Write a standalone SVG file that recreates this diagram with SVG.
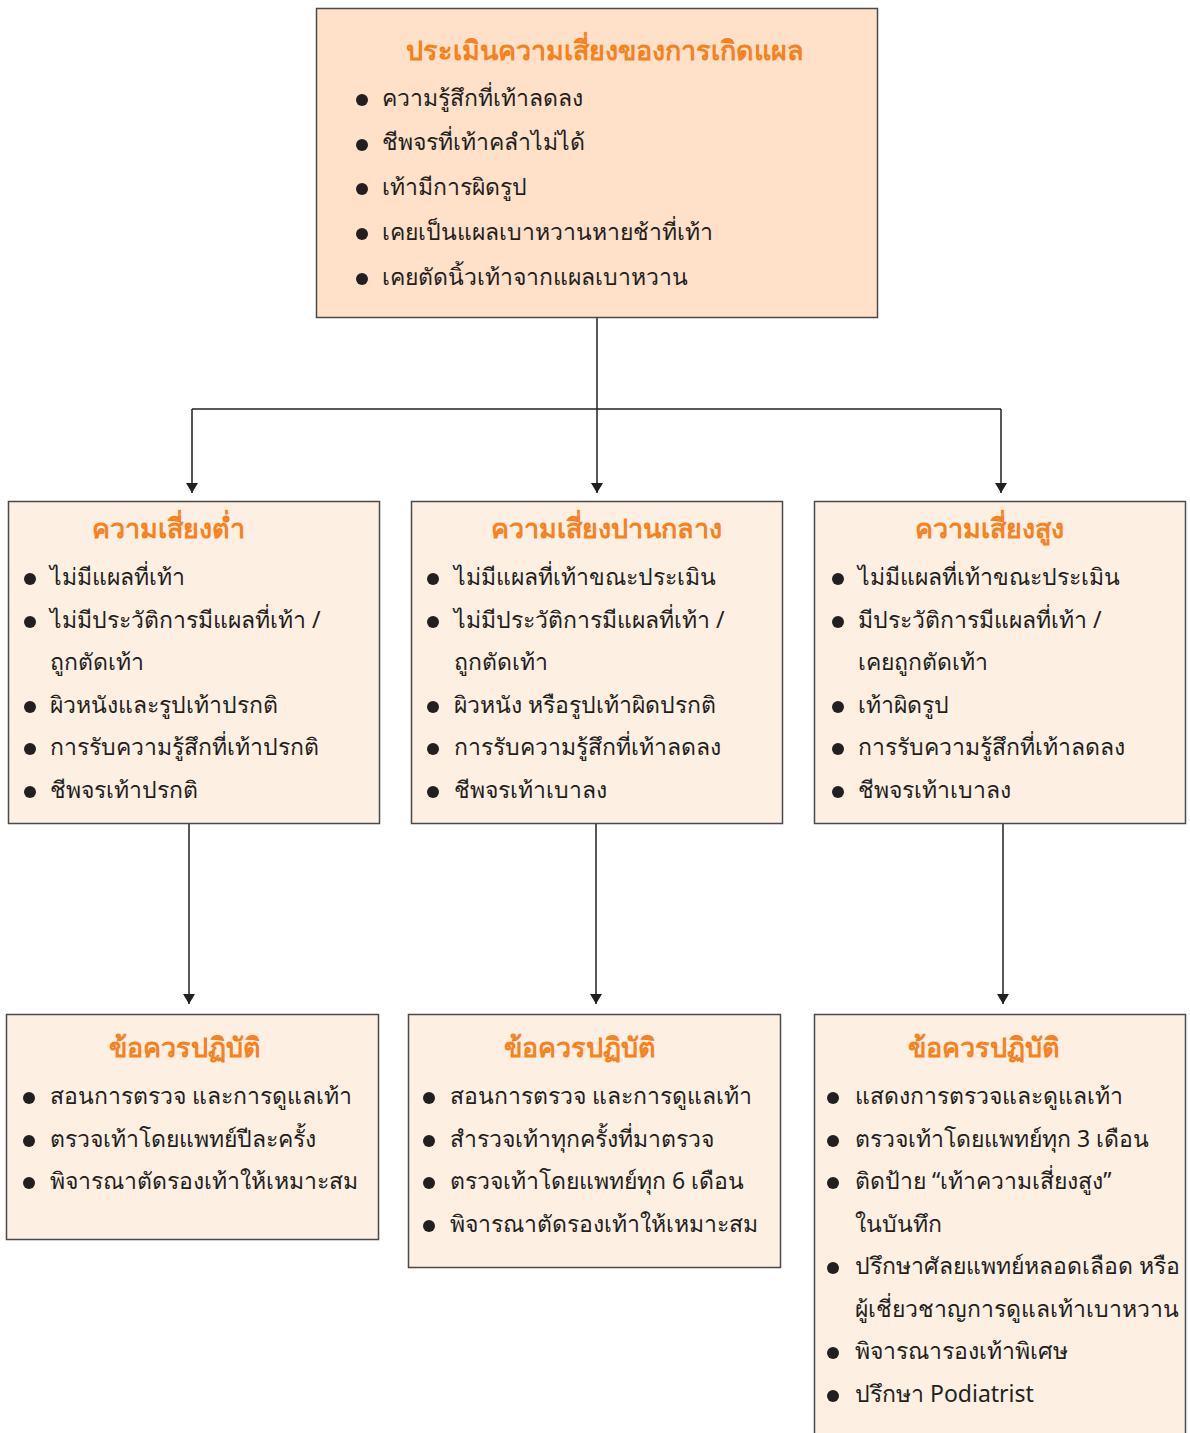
<svg xmlns="http://www.w3.org/2000/svg" width="1190" height="1433" viewBox="0 0 1190 1433">
<style>
.box{stroke:#4a4a4a;stroke-width:1.5}
.top{fill:#FFE0C8}
.lt{fill:#FEEFE3}
.ttl{font-family:"Noto Sans","DejaVu Sans",sans-serif;font-weight:bold;font-size:27px;fill:#F5821F;text-anchor:middle}
.tx{font-family:"Noto Sans","DejaVu Sans",sans-serif;font-size:23px;fill:#231F20}
.bul{fill:#231F20}
.con{stroke:#231F20;stroke-width:1.5;fill:none}
</style>
<defs>
<marker id="ah" markerWidth="10" markerHeight="12" refX="10" refY="6" orient="auto" markerUnits="userSpaceOnUse" viewBox="0 0 10 12">
<path d="M0,0 L10,6 L0,12 Z" fill="#231F20"/>
</marker>
</defs>
<g id="connectors">
<path class="con" d="M597,318 V409"/>
<path class="con" d="M192,409 H1001"/>
<path class="con" d="M192,409 V493" marker-end="url(#ah)"/>
<path class="con" d="M597,409 V493" marker-end="url(#ah)"/>
<path class="con" d="M1001,409 V493" marker-end="url(#ah)"/>
<path class="con" d="M189,824 V1004" marker-end="url(#ah)"/>
<path class="con" d="M596,824 V1004" marker-end="url(#ah)"/>
<path class="con" d="M1003,824 V1004" marker-end="url(#ah)"/>
</g>
<g id="assess">
<rect class="box top" x="316.5" y="8.5" width="561" height="309"/>
<text class="ttl" x="605" y="60">ประเมินความเสี่ยงของการเกิดแผล</text>
<circle class="bul" cx="362" cy="100" r="6"/><text class="tx" x="382" y="106">ความรู้สึกที่เท้าลดลง</text>
<circle class="bul" cx="362" cy="145" r="6"/><text class="tx" x="382" y="150">ชีพจรที่เท้าคลำไม่ได้</text>
<circle class="bul" cx="362" cy="189" r="6"/><text class="tx" x="382" y="195">เท้ามีการผิดรูป</text>
<circle class="bul" cx="362" cy="234" r="6"/><text class="tx" x="382" y="240">เคยเป็นแผลเบาหวานหายช้าที่เท้า</text>
<circle class="bul" cx="362" cy="279" r="6"/><text class="tx" x="382" y="285">เคยตัดนิ้วเท้าจากแผลเบาหวาน</text>
</g>
<g id="low">
<rect class="box lt" x="8.5" y="501.5" width="371" height="322"/>
<text class="ttl" x="168" y="538">ความเสี่ยงต่ำ</text>
<circle class="bul" cx="30" cy="579" r="6"/><text class="tx" x="50" y="585">ไม่มีแผลที่เท้า</text>
<circle class="bul" cx="30" cy="622" r="6"/><text class="tx" x="50" y="628">ไม่มีประวัติการมีแผลที่เท้า /</text>
<text class="tx" x="50" y="670">ถูกตัดเท้า</text>
<circle class="bul" cx="30" cy="707" r="6"/><text class="tx" x="50" y="713">ผิวหนังและรูปเท้าปรกติ</text>
<circle class="bul" cx="30" cy="749" r="6"/><text class="tx" x="50" y="755">การรับความรู้สึกที่เท้าปรกติ</text>
<circle class="bul" cx="30" cy="792" r="6"/><text class="tx" x="50" y="798">ชีพจรเท้าปรกติ</text>
</g>
<g id="medium">
<rect class="box lt" x="411.5" y="501.5" width="371" height="322"/>
<text class="ttl" x="606" y="538">ความเสี่ยงปานกลาง</text>
<circle class="bul" cx="433" cy="579" r="6"/><text class="tx" x="454" y="585">ไม่มีแผลที่เท้าขณะประเมิน</text>
<circle class="bul" cx="433" cy="622" r="6"/><text class="tx" x="454" y="628">ไม่มีประวัติการมีแผลที่เท้า /</text>
<text class="tx" x="454" y="670">ถูกตัดเท้า</text>
<circle class="bul" cx="433" cy="707" r="6"/><text class="tx" x="454" y="713">ผิวหนัง หรือรูปเท้าผิดปรกติ</text>
<circle class="bul" cx="433" cy="749" r="6"/><text class="tx" x="454" y="755">การรับความรู้สึกที่เท้าลดลง</text>
<circle class="bul" cx="433" cy="792" r="6"/><text class="tx" x="454" y="798">ชีพจรเท้าเบาลง</text>
</g>
<g id="high">
<rect class="box lt" x="814.5" y="501.5" width="371" height="322"/>
<text class="ttl" x="989" y="538">ความเสี่ยงสูง</text>
<circle class="bul" cx="838" cy="579" r="6"/><text class="tx" x="858" y="585">ไม่มีแผลที่เท้าขณะประเมิน</text>
<circle class="bul" cx="838" cy="622" r="6"/><text class="tx" x="858" y="628">มีประวัติการมีแผลที่เท้า /</text>
<text class="tx" x="858" y="670">เคยถูกตัดเท้า</text>
<circle class="bul" cx="838" cy="707" r="6"/><text class="tx" x="858" y="713">เท้าผิดรูป</text>
<circle class="bul" cx="838" cy="749" r="6"/><text class="tx" x="858" y="755">การรับความรู้สึกที่เท้าลดลง</text>
<circle class="bul" cx="838" cy="792" r="6"/><text class="tx" x="858" y="798">ชีพจรเท้าเบาลง</text>
</g>
<g id="low-action">
<rect class="box lt" x="6.5" y="1014.5" width="372" height="225"/>
<text class="ttl" x="185" y="1057">ข้อควรปฏิบัติ</text>
<circle class="bul" cx="29" cy="1098" r="6"/><text class="tx" x="50" y="1104">สอนการตรวจ และการดูแลเท้า</text>
<circle class="bul" cx="29" cy="1141" r="6"/><text class="tx" x="50" y="1147">ตรวจเท้าโดยแพทย์ปีละครั้ง</text>
<circle class="bul" cx="29" cy="1183" r="6"/><text class="tx" x="50" y="1189">พิจารณาตัดรองเท้าให้เหมาะสม</text>
</g>
<g id="medium-action">
<rect class="box lt" x="408.5" y="1014.5" width="372" height="253"/>
<text class="ttl" x="580" y="1057">ข้อควรปฏิบัติ</text>
<circle class="bul" cx="429" cy="1098" r="6"/><text class="tx" x="450" y="1104">สอนการตรวจ และการดูแลเท้า</text>
<circle class="bul" cx="429" cy="1141" r="6"/><text class="tx" x="450" y="1147">สำรวจเท้าทุกครั้งที่มาตรวจ</text>
<circle class="bul" cx="429" cy="1183" r="6"/><text class="tx" x="450" y="1189">ตรวจเท้าโดยแพทย์ทุก 6 เดือน</text>
<circle class="bul" cx="429" cy="1226" r="6"/><text class="tx" x="450" y="1232">พิจารณาตัดรองเท้าให้เหมาะสม</text>
</g>
<g id="high-action">
<rect class="box lt" x="814.5" y="1014.5" width="371" height="430"/>
<text class="ttl" x="984" y="1057">ข้อควรปฏิบัติ</text>
<circle class="bul" cx="833" cy="1098" r="6"/><text class="tx" x="855" y="1104">แสดงการตรวจและดูแลเท้า</text>
<circle class="bul" cx="833" cy="1141" r="6"/><text class="tx" x="855" y="1147">ตรวจเท้าโดยแพทย์ทุก 3 เดือน</text>
<circle class="bul" cx="833" cy="1183" r="6"/><text class="tx" x="855" y="1189">ติดป้าย “เท้าความเสี่ยงสูง”</text>
<text class="tx" x="855" y="1232">ในบันทึก</text>
<circle class="bul" cx="833" cy="1268" r="6"/><text class="tx" x="855" y="1274">ปรึกษาศัลยแพทย์หลอดเลือด หรือ</text>
<text class="tx" x="855" y="1317">ผู้เชี่ยวชาญการดูแลเท้าเบาหวาน</text>
<circle class="bul" cx="833" cy="1353" r="6"/><text class="tx" x="855" y="1359">พิจารณารองเท้าพิเศษ</text>
<circle class="bul" cx="833" cy="1396" r="6"/><text class="tx" x="855" y="1402">ปรึกษา Podiatrist</text>
</g>
</svg>
